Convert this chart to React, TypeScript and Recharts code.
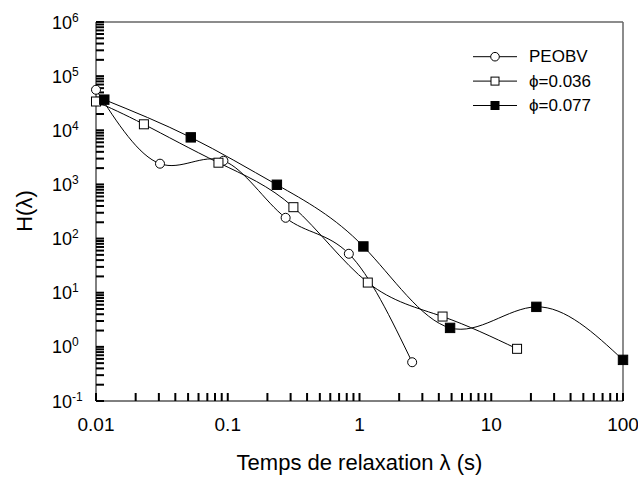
import React from 'react';
import { ComposedChart, Line, XAxis, YAxis, ReferenceLine } from 'recharts';

// relaxation spectra H(lambda)
const peobvLambda = [0.01, 0.0306, 0.0927, 0.275, 0.83, 2.51];
const peobvH = [56000, 2415, 2740, 242, 52.4, 0.52];

const phi036Lambda = [0.01, 0.0231, 0.085, 0.315, 1.156, 4.27, 15.7];
const phi036H = [34000, 12900, 2520, 380, 15.4, 3.63, 0.92];

const phi077Lambda = [0.01156, 0.0524, 0.236, 1.07, 4.87, 22.0, 100];
const phi077H = [36800, 7400, 986, 71.5, 2.24, 5.48, 0.575];

const xMajorTicks = [0.01, 0.1, 1, 10, 100];
const xMajorLabels = ['0.01', '0.1', '1', '10', '100'];
const yExponents = [-1, 0, 1, 2, 3, 4, 5, 6];
const minorSteps = [2, 3, 4, 5, 6, 7, 8, 9];

const FONT = 'Liberation Sans, Arial, Helvetica, sans-serif';
const TICK_LEN = 8;

const toPoints = (xs: number[], ys: number[]) => xs.map((x, i) => ({ x, y: ys[i] }));

const peobv = toPoints(peobvLambda, peobvH);
const phi036 = toPoints(phi036Lambda, phi036H);
const phi077 = toPoints(phi077Lambda, phi077H);

const yMajorTicks = yExponents.map((e) => Math.pow(10, e));
const xMinorTicks = xMajorTicks.slice(0, -1).flatMap((d) => minorSteps.map((m) => m * d));
const yMinorTicks = yMajorTicks.slice(0, -1).flatMap((d) => minorSteps.map((m) => m * d));

const XTick = (props: any) => {
  const { x, y, payload } = props;
  const idx = xMajorTicks.indexOf(payload.value);
  if (idx < 0) return <g />;
  return (
    <text x={x} y={y + TICK_LEN + 30} textAnchor="middle" fontSize={19} fontFamily={FONT} fill="#000">
      {xMajorLabels[idx]}
    </text>
  );
};

const YTick = (props: any) => {
  const { x, y, payload } = props;
  const idx = yMajorTicks.indexOf(payload.value);
  if (idx < 0) return <g />;
  return (
    <text x={x - TICK_LEN - 44} y={y + 6.6} fontSize={18} fontFamily={FONT} fill="#000">
      <tspan>10</tspan>
      <tspan dy={-7} fontSize={12}>{yExponents[idx]}</tspan>
    </text>
  );
};

const CircleDot = (props: any) => {
  const { cx, cy } = props;
  if (cx == null || cy == null) return null;
  return <circle cx={cx} cy={cy} r={4.5} fill="#fff" stroke="#000" strokeWidth={1} />;
};

const OpenSquare = (props: any) => {
  const { cx, cy } = props;
  if (cx == null || cy == null) return null;
  return <rect x={cx - 4.5} y={cy - 4.5} width={9} height={9} fill="#fff" stroke="#000" strokeWidth={1} />;
};

const FilledSquare = (props: any) => {
  const { cx, cy } = props;
  if (cx == null || cy == null) return null;
  return <rect x={cx - 4.7} y={cy - 4.7} width={9.4} height={9.4} fill="#000" stroke="#000" strokeWidth={1} />;
};

const legendItems = [
  { name: 'PEOBV', marker: 'circle' },
  { name: 'ϕ=0.036', marker: 'open' },
  { name: 'ϕ=0.077', marker: 'filled' },
];

const LegendBox = () => (
  <svg width={150} height={80}>
    {legendItems.map((item, i) => {
      const cy = 16.7 + i * 24.4;
      return (
        <g key={item.name}>
          <line x1={13} x2={57} y1={cy} y2={cy} stroke="#000" strokeWidth={1} />
          {item.marker === 'circle' && <circle cx={35} cy={cy} r={4.3} fill="#fff" stroke="#000" />}
          {item.marker === 'open' && <rect x={31} y={cy - 4} width={8} height={8} fill="#fff" stroke="#000" />}
          {item.marker === 'filled' && <rect x={31} y={cy - 4} width={8} height={8} fill="#000" stroke="#000" />}
          <text x={69} y={cy} dominantBaseline="central" fontSize={17} fontFamily={FONT} fill="#000">
            {item.name}
          </text>
        </g>
      );
    })}
  </svg>
);

const titleStyle: React.CSSProperties = {
  position: 'absolute',
  fontFamily: FONT,
  fontSize: 22,
  lineHeight: '22px',
  color: '#000',
  textAlign: 'center',
  whiteSpace: 'nowrap',
};

export default function App() {
  return (
    <div style={{ position: 'relative', width: 638, height: 478, background: '#fff' }}>
      <style>{'body{margin:0}'}</style>
      <ComposedChart width={638} height={478} margin={{ top: 22, right: 15, bottom: 0, left: 0 }}>
        <XAxis
          dataKey="x"
          type="number"
          scale="log"
          domain={[0.01, 100]}
          ticks={[...xMajorTicks, ...xMinorTicks]}
          interval={0}
          height={77}
          stroke="#000"
          tickSize={-TICK_LEN}
          tickMargin={0}
          tickLine={{ stroke: '#000', strokeWidth: 2 }}
          tick={<XTick />}
        />
        <YAxis
          dataKey="y"
          type="number"
          scale="log"
          domain={[0.1, 1000000]}
          ticks={[...yMajorTicks, ...yMinorTicks]}
          interval={0}
          width={96}
          stroke="#000"
          tickSize={-TICK_LEN}
          tickMargin={0}
          tickLine={{ stroke: '#000', strokeWidth: 2 }}
          tick={<YTick />}
        />
        <ReferenceLine y={1000000} stroke="#666" strokeWidth={1.5} />
        <ReferenceLine x={100} stroke="#666" strokeWidth={1.5} />
        <Line
          data={peobv}
          dataKey="y"
          name="PEOBV"
          type="natural"
          stroke="#000"
          strokeWidth={1}
          dot={<CircleDot />}
          activeDot={false}
          isAnimationActive={false}
        />
        <Line
          data={phi036}
          dataKey="y"
          name="ϕ=0.036"
          type="natural"
          stroke="#000"
          strokeWidth={1}
          dot={<OpenSquare />}
          activeDot={false}
          isAnimationActive={false}
        />
        <Line
          data={phi077}
          dataKey="y"
          name="ϕ=0.077"
          type="natural"
          stroke="#000"
          strokeWidth={1}
          dot={<FilledSquare />}
          activeDot={false}
          isAnimationActive={false}
        />
      </ComposedChart>
      <div style={{ position: 'absolute', left: 460, top: 40 }}>
        <LegendBox />
      </div>
      <div style={{ ...titleStyle, left: 159.5, top: 452, width: 400 }}>Temps de relaxation λ (s)</div>
      <div style={{ ...titleStyle, left: -25, top: 200, width: 100, transform: 'rotate(-90deg)' }}>H(λ)</div>
    </div>
  );
}
